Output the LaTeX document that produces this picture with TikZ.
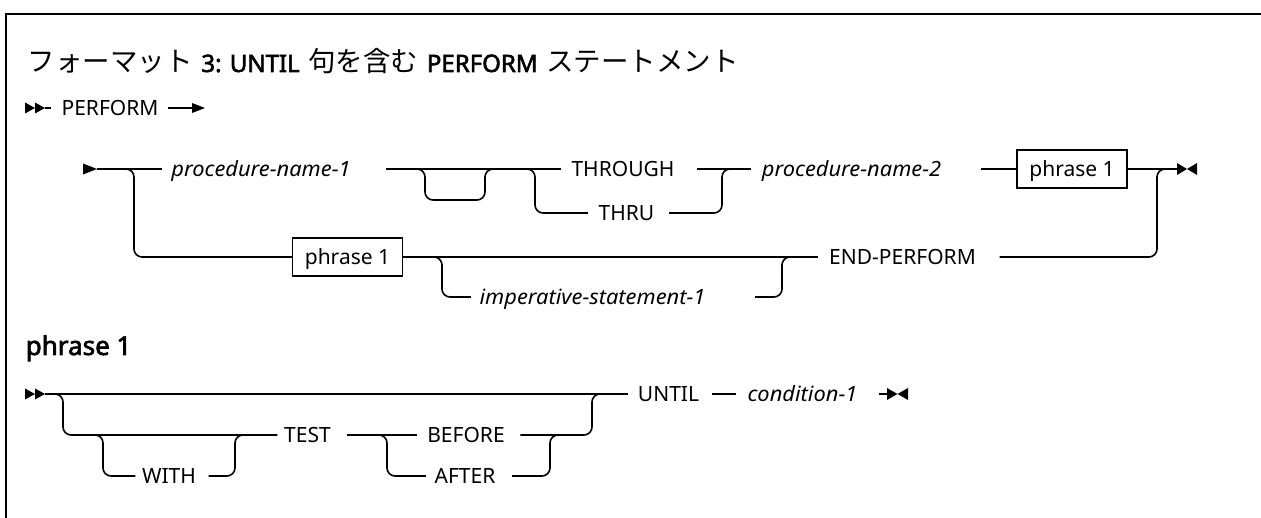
\documentclass[tikz,border=0pt]{standalone}
\usepackage{fontspec}
\setmainfont{Noto Sans}[ItalicFeatures={FakeStretch=1.04}]
\newfontfamily\bfam{Noto Sans}[FakeBold=2.4]
\newfontfamily\jpfont{Noto Sans CJK JP}
\begin{document}
\begin{tikzpicture}[x=1pt,y=-1pt, line width=1.6pt,
  rr/.style={rounded corners=8pt},
  kw/.style={inner sep=0pt, text height=15pt, text depth=0pt, font=\fontsize{21}{25}\selectfont},
  var/.style={kw, font=\fontsize{21}{25}\selectfont\itshape},
  boxn/.style={draw, line width=1.5pt, inner sep=0pt, minimum width=110pt, minimum height=38pt, text height=15pt, text depth=0pt, font=\fontsize{21}{25}\selectfont},
  jt/.style={anchor=base west, inner sep=0pt, font=\jpfont\fontsize{27.5}{32}\selectfont},
  lt/.style={anchor=base west, inner sep=0pt, font=\bfam\fontsize{24}{28}\selectfont},
  tip/.style={fill=black, draw=none}]
\useasboundingbox (0,0) rectangle (1261,518);
% frame
\draw[line width=2.6pt] (6,540) -- (6,14) -- (1290,14);
% title
\node[jt] (t1) at (27,72) {フォーマット};
\node[lt] (t2) at ([xshift=7pt]t1.base east) {3: UNTIL};
\node[jt] (t3) at ([xshift=7pt]t2.base east) {句を含む};
\node[lt] (t4) at ([xshift=7pt]t3.base east) {PERFORM};
\node[jt] (t5) at ([xshift=7pt]t4.base east) {ステートメント};
% row P
\fill[tip] (25,102.5) -- (35,108) -- (25,113.5) -- cycle;
\fill[tip] (35,102.5) -- (45,108) -- (35,113.5) -- cycle;
\coordinate (sP) at (45,108);
\node[kw] (perf) at (110,108) {PERFORM};
\draw (sP) -- ([xshift=-10pt]perf.west);
\coordinate (eP) at (193,108);
\draw ([xshift=9pt]perf.east) -- (eP);
\fill[tip] (192,103) -- (205,108) -- (192,113) -- cycle;
% row 1
\fill[tip] (83,163.5) -- (97,169) -- (83,174.5) -- cycle;
\coordinate (s1) at (97,169);
\node[var] (pn1) at (261,169) {procedure-name-1};
\node[kw] (thr) at (623,169) {THROUGH};
\node[kw] (thru) at (626.5,213) {THRU};
\node[var] (pn2) at (851.5,169) {procedure-name-2};
\node[boxn] (ph1) at (1072,169) {phrase 1};
\node[boxn] (ph2) at (347.5,257) {phrase 1};
\node[kw] (endp) at (902.5,257) {END-PERFORM};
\node[var] (imp) at (592.5,297) {imperative-statement-1};
\draw (s1) -- ([xshift=-9pt]pn1.west);
\draw[rr] (118,169) -- (134,169) -- (134,257) -- (ph2.west);
\draw ([xshift=35pt]pn1.east) -- ([xshift=-10pt]thr.west);
\draw[rr] (411,169) -- (425,169) -- (425,200) -- (485,200) -- (485,169) -- (499,169);
\draw[rr] (521,169) -- (535,169) -- (535,213) -- ([xshift=-10pt]thru.west);
\draw[rr] ([xshift=14pt]thru.east) -- (722,213) -- (722,169) -- (736,169);
\draw ([xshift=22pt]thr.east) -- ([xshift=-10pt]pn2.west);
\draw ([xshift=39pt]pn2.east) -- (ph1.west);
\coordinate (e1) at (1178,169);
\draw (ph1.east) -- (e1);
\fill[tip] (1177,163) -- (1187,169) -- (1177,175) -- cycle;
\fill[tip] (1197,163) -- (1187,169) -- (1197,175) -- cycle;
% row 2
\draw (ph2.east) -- ([xshift=-10pt]endp.west);
\draw[rr] (426,257) -- (442,257) -- (442,297) -- ([xshift=-8pt]imp.west);
\draw[rr] ([xshift=49pt]imp.east) -- (782,297) -- (782,257) -- (798,257);
\draw[rr] ([xshift=23pt]endp.east) -- (1157,257) -- (1157,169) -- (1173,169);
% phrase 1 definition
\node[anchor=base west, inner sep=0pt, font=\bfam\fontsize{26}{30}\selectfont] (phtitle) at (25,355) {phrase 1};
\fill[tip] (25,388.5) -- (35,394) -- (25,399.5) -- cycle;
\fill[tip] (35,388.5) -- (45,394) -- (35,399.5) -- cycle;
\coordinate (sB) at (45,394);
\node[kw] (until) at (668.5,394) {UNTIL};
\node[kw] (test) at (307.5,435) {TEST};
\node[kw] (with) at (169,476) {WITH};
\node[kw] (before) at (466,435) {BEFORE};
\node[kw] (after) at (465,476) {AFTER};
\node[var] (cond) at (802.5,394) {condition-1};
\draw (sB) -- ([xshift=-9pt]until.west);
\draw[rr] (49,394) -- (63,394) -- (63,435) -- ([xshift=-6pt]test.west);
\draw[rr] (89,435) -- (103,435) -- (103,476) -- ([xshift=-6pt]with.west);
\draw[rr] ([xshift=12pt]with.east) -- (235,476) -- (235,435) -- (249,435);
\draw ([xshift=15pt]test.east) -- ([xshift=-10pt]before.west);
\draw[rr] (373,435) -- (387,435) -- (387,476) -- ([xshift=-8pt]after.west);
\draw[rr] ([xshift=16pt]after.east) -- (550,476) -- (550,435) -- (564,435);
\draw[rr] ([xshift=15pt]before.east) -- (592,435) -- (592,394) -- (606,394);
\draw ([xshift=12pt]until.east) -- ([xshift=-11pt]cond.west);
\coordinate (eB) at (888,394);
\draw ([xshift=21pt]cond.east) -- (eB);
\fill[tip] (887,388) -- (897.5,394) -- (887,400) -- cycle;
\fill[tip] (908,388) -- (897.5,394) -- (908,400) -- cycle;
\end{tikzpicture}
\end{document}
